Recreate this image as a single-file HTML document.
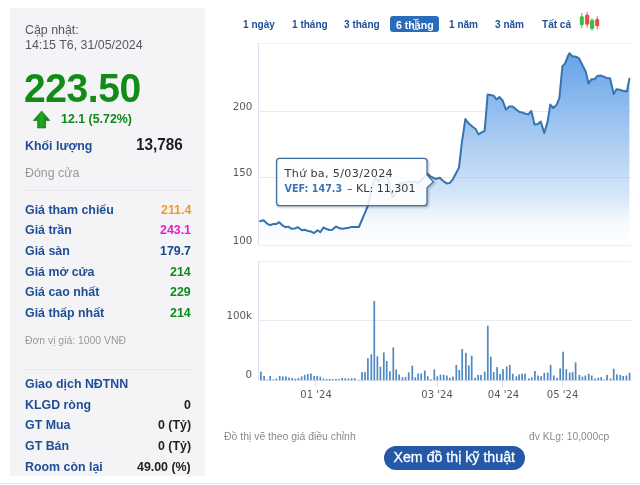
<!DOCTYPE html>
<html lang="vi">
<head>
<meta charset="utf-8">
<title>VEF</title>
<style>
html,body{margin:0;padding:0;background:#fff;}
body{width:640px;height:485px;position:relative;overflow:hidden;font-family:"Liberation Sans",Arial,sans-serif;}
.abs{position:absolute;white-space:nowrap;line-height:1;will-change:transform;}
#panel{position:absolute;left:10px;top:8px;width:195.4px;height:468px;background:#f5f4f7;}
#panel2{position:absolute;left:10px;top:8px;width:190px;height:468px;background:#f4f4f7;}
.g{color:#55585d;font-size:12.4px;}
.lbl{color:#1f4e96;font-weight:bold;font-size:12.4px;left:25px;}
.val{font-weight:bold;font-size:12.4px;right:449px;text-align:right;}
.hr{position:absolute;left:24px;width:170px;height:1px;background:#ebebef;}
.tab{color:#1f4e96;font-weight:bold;font-size:10.05px;top:19.6px;}
.ax{font-family:"DejaVu Sans","Liberation Sans",sans-serif;font-size:10.5px;color:#555;}
</style>
</head>
<body>
<div id="panel"></div><div id="panel2"></div>

<div class="abs g" style="left:25px;top:24.2px;">Cập nhật:</div>
<div class="abs g" style="left:25px;top:38.7px;">14:15 T6, 31/05/2024</div>
<div class="abs" id="big" style="left:24px;top:68.5px;font-size:39px;font-weight:bold;color:#118c16;letter-spacing:-0.4px;transform:scaleY(1.045);transform-origin:0 33.5px;">223.50</div>
<svg class="abs" style="left:32px;top:110px;" width="20" height="19" viewBox="0 0 20 19"><defs><linearGradient id="arg" x1="0" y1="0" x2="1" y2="0"><stop offset="0" stop-color="#0f7a14"/><stop offset="0.5" stop-color="#22a822"/><stop offset="1" stop-color="#0c6a12"/></linearGradient></defs><path d="M9.6 0.9 L17.9 10.6 L13.6 10.6 L13.6 18 L5.6 18 L5.6 10.6 L1.3 10.6 Z" fill="url(#arg)" stroke="#0b6a11" stroke-width="0.6" stroke-linejoin="round"/></svg>
<div class="abs" style="left:61px;top:113px;font-size:12.4px;font-weight:bold;color:#0e8a1b;">12.1 (5.72%)</div>
<div class="abs lbl" style="top:139.5px;">Khối lượng</div>
<div class="abs" style="left:136px;top:136.8px;font-size:15.3px;font-weight:bold;color:#1a1d24;transform:scaleY(1.08);transform-origin:0 13px;">13,786</div>
<div class="abs" style="left:25px;top:166.6px;font-size:12.4px;color:#999;">Đóng cửa</div>
<div class="hr" style="top:190px;"></div>

<div class="abs lbl" style="top:203.5px;">Giá tham chiếu</div><div class="abs val" style="top:203.5px;color:#f29a1f;">211.4</div>
<div class="abs lbl" style="top:224.2px;">Giá trần</div><div class="abs val" style="top:224.2px;color:#e31fd0;">243.1</div>
<div class="abs lbl" style="top:244.9px;">Giá sàn</div><div class="abs val" style="top:244.9px;color:#1b4788;">179.7</div>
<div class="abs lbl" style="top:265.5px;">Giá mở cửa</div><div class="abs val" style="top:265.5px;color:#0e8a1b;">214</div>
<div class="abs lbl" style="top:286.2px;">Giá cao nhất</div><div class="abs val" style="top:286.2px;color:#0e8a1b;">229</div>
<div class="abs lbl" style="top:307.0px;">Giá thấp nhất</div><div class="abs val" style="top:307.0px;color:#0e8a1b;">214</div>
<div class="abs" style="left:25px;top:335.7px;font-size:10.4px;color:#999;">Đơn vị giá: 1000 VNĐ</div>
<div class="hr" style="top:369px;"></div>
<div class="abs lbl" style="top:377.7px;">Giao dịch NĐTNN</div>
<div class="abs lbl" style="top:398.5px;">KLGD ròng</div><div class="abs val" style="top:398.5px;color:#222;">0</div>
<div class="abs lbl" style="top:419.1px;">GT Mua</div><div class="abs val" style="top:419.1px;color:#222;">0 (Tỷ)</div>
<div class="abs lbl" style="top:439.8px;">GT Bán</div><div class="abs val" style="top:439.8px;color:#222;">0 (Tỷ)</div>
<div class="abs lbl" style="top:460.5px;">Room còn lại</div><div class="abs val" style="top:460.5px;color:#222;">49.00 (%)</div>
<div style="position:absolute;left:0;top:483px;width:640px;height:1px;background:#ececf0;"></div>

<!-- tabs -->
<div class="abs tab" style="left:242.5px;">1 ngày</div>
<div class="abs tab" style="left:291.5px;">1 tháng</div>
<div class="abs tab" style="left:344px;">3 tháng</div>
<div class="abs" style="left:390px;top:16.3px;width:49.2px;height:15.9px;border-radius:3px;background:#2a6cbc;"></div>
<div class="abs tab" style="left:396px;color:#fff;font-size:10.6px;top:19.6px;">6 tháng</div>
<svg class="abs" style="left:411px;top:18px;" width="10" height="13" viewBox="0 0 10 13"><path d="M2.6 1.2 Q4.3 1.2 4.9 2.2 Q5.5 1.2 7.2 1.2 M4.9 2.2 V10.8 M2.6 11.8 Q4.3 11.8 4.9 10.8 Q5.5 11.8 7.2 11.8" fill="none" stroke="#2a4a78" stroke-width="2.2" stroke-opacity="0.55" stroke-linecap="round"/><path d="M2.6 1.2 Q4.3 1.2 4.9 2.2 Q5.5 1.2 7.2 1.2 M4.9 2.2 V10.8 M2.6 11.8 Q4.3 11.8 4.9 10.8 Q5.5 11.8 7.2 11.8" fill="none" stroke="#ffffff" stroke-width="1" stroke-linecap="round"/></svg>
<div class="abs tab" style="left:449.4px;">1 năm</div>
<div class="abs tab" style="left:495px;">3 năm</div>
<div class="abs tab" style="left:542px;">Tất cả</div>
<svg class="abs" style="left:576px;top:8px;" width="28" height="26" viewBox="576 8 28 26">
<g stroke-linecap="round">
<line x1="581.8" y1="13.3" x2="581.8" y2="28" stroke="#3aa648" stroke-width="0.9"/>
<rect x="579.8" y="15.9" width="4" height="9.4" rx="1.6" fill="#3fba4d"/>
<line x1="587.1" y1="12.4" x2="587.1" y2="27.1" stroke="#d9483f" stroke-width="0.9"/>
<rect x="585.1" y="14.5" width="4.1" height="10.3" rx="1.6" fill="#ea4b40"/>
<line x1="592" y1="18.5" x2="592" y2="30.4" stroke="#3aa648" stroke-width="0.9"/>
<rect x="589.9" y="19.7" width="4.3" height="9.3" rx="1.6" fill="#3fba4d"/>
<line x1="597.2" y1="16.6" x2="597.2" y2="28.9" stroke="#d9483f" stroke-width="0.9"/>
<rect x="595.2" y="18.8" width="4" height="7.5" rx="1.6" fill="#ea4b40"/>
</g></svg>

<svg class="abs" style="left:0;top:0;" width="640" height="485" viewBox="0 0 640 485" id="chart">
<defs>
<linearGradient id="ag" gradientUnits="userSpaceOnUse" x1="0" y1="42.5" x2="0" y2="245.3">
<stop offset="0" stop-color="#5e9ee7"/><stop offset="0.74" stop-color="#d3e4f8"/><stop offset="0.88" stop-color="#f5f8fd"/><stop offset="1" stop-color="#ffffff"/>
</linearGradient>
</defs>
<!-- CHART-BEGIN -->
<g shape-rendering="crispEdges">
<rect x="258.5" y="42.5" width="372.5" height="1" fill="#eeeef4"/>
<rect x="258.5" y="110.9" width="372.5" height="1" fill="#e8e9f1"/>
<rect x="258.5" y="176.9" width="372.5" height="1" fill="#e8e9f1"/>
<rect x="258.5" y="244.8" width="372.5" height="1" fill="#eaebf2"/>
<rect x="258.0" y="42.5" width="1" height="202.8" fill="#dfe1f0"/>
<rect x="258.5" y="261.3" width="372.5" height="1" fill="#eeeef4"/>
<rect x="258.5" y="320.2" width="372.5" height="1" fill="#e8e9f1"/>
<rect x="258.5" y="379.8" width="372.5" height="1" fill="#e6e8f1"/>
<rect x="258.0" y="261.3" width="1" height="119.0" fill="#dfe1f0"/>
<rect x="315.4" y="380.3" width="1" height="7" fill="#dfe1f0"/>
<rect x="436.5" y="380.3" width="1" height="7" fill="#dfe1f0"/>
<rect x="502.3" y="380.3" width="1" height="7" fill="#dfe1f0"/>
<rect x="561.5" y="380.3" width="1" height="7" fill="#dfe1f0"/>
</g>
<path d="M260.2 221.2 L263.6 220.3 L266.7 223.3 L269.8 225.2 L273.0 224.1 L276.1 224.1 L279.2 222.2 L282.3 225.3 L285.5 227.2 L288.1 226.6 L291.7 228.8 L294.8 228.4 L298.0 227.2 L301.9 230.3 L304.7 229.7 L308.1 231.1 L311.2 231.6 L314.1 233.1 L317.5 230.3 L320.3 232.3 L323.4 227.5 L326.1 228.8 L329.2 230.0 L332.3 229.8 L335.9 226.4 L339.4 228.3 L342.5 228.8 L345.6 228.3 L348.8 227.8 L351.9 226.9 L355.0 226.9 L358.9 227.0 L361.9 220.0 L364.5 213.9 L368.0 205.5 L370.6 193.8 L373.3 182.4 L375.5 178.0 L378.5 182.0 L381.5 177.0 L384.7 176.3 L387.5 177.5 L389.9 186.8 L392.5 197.5 L396.0 192.0 L399.2 184.0 L402.3 182.5 L405.5 183.5 L408.6 181.0 L411.7 182.5 L414.8 181.5 L418.0 183.0 L421.1 180.0 L424.2 177.0 L427.2 173.6 L430.9 176.6 L435.9 179.0 L439.8 177.7 L443.2 181.0 L446.6 183.4 L449.6 183.1 L452.6 179.7 L455.5 174.2 L459.0 167.6 L461.9 142.2 L465.4 119.0 L468.8 123.6 L472.6 126.7 L475.6 129.0 L478.5 134.4 L481.7 132.4 L484.6 130.8 L486.2 112.7 L487.6 94.5 L490.7 95.0 L493.7 95.7 L496.4 99.5 L499.4 97.0 L502.4 100.2 L506.0 109.6 L509.2 106.5 L512.2 106.4 L515.6 108.9 L519.4 112.0 L522.7 112.6 L525.4 113.7 L528.3 114.4 L531.3 111.0 L534.5 124.4 L537.9 123.9 L540.8 121.6 L544.2 133.0 L547.6 121.6 L550.3 104.6 L553.3 108.0 L556.7 104.6 L559.4 97.8 L562.4 66.1 L565.1 63.4 L568.0 55.9 L569.4 53.3 L572.3 56.2 L576.3 56.8 L579.0 58.3 L582.2 64.6 L585.7 71.5 L588.5 83.4 L591.6 79.2 L594.6 79.2 L597.3 75.9 L600.3 75.5 L603.8 76.6 L606.6 78.0 L610.1 78.3 L613.7 94.1 L616.5 89.2 L619.5 89.8 L622.8 90.7 L626.9 91.5 L629.4 78.8 L629.4 245.3 L260.2 245.3 Z" fill="url(#ag)"/>
<clipPath id="acl"><path d="M260.2 221.2 L263.6 220.3 L266.7 223.3 L269.8 225.2 L273.0 224.1 L276.1 224.1 L279.2 222.2 L282.3 225.3 L285.5 227.2 L288.1 226.6 L291.7 228.8 L294.8 228.4 L298.0 227.2 L301.9 230.3 L304.7 229.7 L308.1 231.1 L311.2 231.6 L314.1 233.1 L317.5 230.3 L320.3 232.3 L323.4 227.5 L326.1 228.8 L329.2 230.0 L332.3 229.8 L335.9 226.4 L339.4 228.3 L342.5 228.8 L345.6 228.3 L348.8 227.8 L351.9 226.9 L355.0 226.9 L358.9 227.0 L361.9 220.0 L364.5 213.9 L368.0 205.5 L370.6 193.8 L373.3 182.4 L375.5 178.0 L378.5 182.0 L381.5 177.0 L384.7 176.3 L387.5 177.5 L389.9 186.8 L392.5 197.5 L396.0 192.0 L399.2 184.0 L402.3 182.5 L405.5 183.5 L408.6 181.0 L411.7 182.5 L414.8 181.5 L418.0 183.0 L421.1 180.0 L424.2 177.0 L427.2 173.6 L430.9 176.6 L435.9 179.0 L439.8 177.7 L443.2 181.0 L446.6 183.4 L449.6 183.1 L452.6 179.7 L455.5 174.2 L459.0 167.6 L461.9 142.2 L465.4 119.0 L468.8 123.6 L472.6 126.7 L475.6 129.0 L478.5 134.4 L481.7 132.4 L484.6 130.8 L486.2 112.7 L487.6 94.5 L490.7 95.0 L493.7 95.7 L496.4 99.5 L499.4 97.0 L502.4 100.2 L506.0 109.6 L509.2 106.5 L512.2 106.4 L515.6 108.9 L519.4 112.0 L522.7 112.6 L525.4 113.7 L528.3 114.4 L531.3 111.0 L534.5 124.4 L537.9 123.9 L540.8 121.6 L544.2 133.0 L547.6 121.6 L550.3 104.6 L553.3 108.0 L556.7 104.6 L559.4 97.8 L562.4 66.1 L565.1 63.4 L568.0 55.9 L569.4 53.3 L572.3 56.2 L576.3 56.8 L579.0 58.3 L582.2 64.6 L585.7 71.5 L588.5 83.4 L591.6 79.2 L594.6 79.2 L597.3 75.9 L600.3 75.5 L603.8 76.6 L606.6 78.0 L610.1 78.3 L613.7 94.1 L616.5 89.2 L619.5 89.8 L622.8 90.7 L626.9 91.5 L629.4 78.8 L629.4 245.3 L260.2 245.3 Z"/></clipPath>
<g clip-path="url(#acl)" shape-rendering="crispEdges"><rect x="258.5" y="110.9" width="372.5" height="1" fill="#9aa0c0" fill-opacity="0.07"/><rect x="258.5" y="176.9" width="372.5" height="1" fill="#9aa0c0" fill-opacity="0.2"/></g>
<path d="M260.2 221.2 L263.6 220.3 L266.7 223.3 L269.8 225.2 L273.0 224.1 L276.1 224.1 L279.2 222.2 L282.3 225.3 L285.5 227.2 L288.1 226.6 L291.7 228.8 L294.8 228.4 L298.0 227.2 L301.9 230.3 L304.7 229.7 L308.1 231.1 L311.2 231.6 L314.1 233.1 L317.5 230.3 L320.3 232.3 L323.4 227.5 L326.1 228.8 L329.2 230.0 L332.3 229.8 L335.9 226.4 L339.4 228.3 L342.5 228.8 L345.6 228.3 L348.8 227.8 L351.9 226.9 L355.0 226.9 L358.9 227.0 L361.9 220.0 L364.5 213.9 L368.0 205.5 L370.6 193.8 L373.3 182.4 L375.5 178.0 L378.5 182.0 L381.5 177.0 L384.7 176.3 L387.5 177.5 L389.9 186.8 L392.5 197.5 L396.0 192.0 L399.2 184.0 L402.3 182.5 L405.5 183.5 L408.6 181.0 L411.7 182.5 L414.8 181.5 L418.0 183.0 L421.1 180.0 L424.2 177.0 L427.2 173.6 L430.9 176.6 L435.9 179.0 L439.8 177.7 L443.2 181.0 L446.6 183.4 L449.6 183.1 L452.6 179.7 L455.5 174.2 L459.0 167.6 L461.9 142.2 L465.4 119.0 L468.8 123.6 L472.6 126.7 L475.6 129.0 L478.5 134.4 L481.7 132.4 L484.6 130.8 L486.2 112.7 L487.6 94.5 L490.7 95.0 L493.7 95.7 L496.4 99.5 L499.4 97.0 L502.4 100.2 L506.0 109.6 L509.2 106.5 L512.2 106.4 L515.6 108.9 L519.4 112.0 L522.7 112.6 L525.4 113.7 L528.3 114.4 L531.3 111.0 L534.5 124.4 L537.9 123.9 L540.8 121.6 L544.2 133.0 L547.6 121.6 L550.3 104.6 L553.3 108.0 L556.7 104.6 L559.4 97.8 L562.4 66.1 L565.1 63.4 L568.0 55.9 L569.4 53.3 L572.3 56.2 L576.3 56.8 L579.0 58.3 L582.2 64.6 L585.7 71.5 L588.5 83.4 L591.6 79.2 L594.6 79.2 L597.3 75.9 L600.3 75.5 L603.8 76.6 L606.6 78.0 L610.1 78.3 L613.7 94.1 L616.5 89.2 L619.5 89.8 L622.8 90.7 L626.9 91.5 L629.4 78.8" fill="none" stroke="#3573b1" stroke-width="2" stroke-linejoin="round" stroke-linecap="round"/>
<g fill="#4f88c2">
<rect x="260.05" y="371.7" width="1.7" height="8.6"/>
<rect x="263.25" y="375.9" width="1.7" height="4.4"/>
<rect x="266.35" y="379.7" width="1.7" height="0.6"/>
<rect x="269.35" y="375.9" width="1.7" height="4.4"/>
<rect x="272.45" y="379.5" width="1.7" height="0.8"/>
<rect x="275.45" y="378.6" width="1.7" height="1.7"/>
<rect x="278.85" y="375.9" width="1.7" height="4.4"/>
<rect x="281.95" y="376.4" width="1.7" height="3.9"/>
<rect x="285.05" y="376.4" width="1.7" height="3.9"/>
<rect x="288.15" y="377.5" width="1.7" height="2.8"/>
<rect x="291.35" y="378.0" width="1.7" height="2.3"/>
<rect x="294.45" y="378.8" width="1.7" height="1.5"/>
<rect x="297.55" y="378.0" width="1.7" height="2.3"/>
<rect x="300.75" y="376.4" width="1.7" height="3.9"/>
<rect x="303.85" y="374.8" width="1.7" height="5.5"/>
<rect x="306.95" y="373.9" width="1.7" height="6.4"/>
<rect x="310.05" y="373.6" width="1.7" height="6.7"/>
<rect x="313.25" y="375.9" width="1.7" height="4.4"/>
<rect x="316.35" y="375.9" width="1.7" height="4.4"/>
<rect x="319.45" y="376.7" width="1.7" height="3.6"/>
<rect x="322.55" y="378.6" width="1.7" height="1.7"/>
<rect x="325.75" y="379.1" width="1.7" height="1.2"/>
<rect x="328.85" y="378.8" width="1.7" height="1.5"/>
<rect x="331.95" y="379.1" width="1.7" height="1.2"/>
<rect x="335.05" y="378.8" width="1.7" height="1.5"/>
<rect x="338.15" y="379.1" width="1.7" height="1.2"/>
<rect x="341.35" y="378.0" width="1.7" height="2.3"/>
<rect x="344.45" y="378.3" width="1.7" height="2.0"/>
<rect x="347.55" y="378.6" width="1.7" height="1.7"/>
<rect x="350.75" y="378.3" width="1.7" height="2.0"/>
<rect x="353.85" y="378.3" width="1.7" height="2.0"/>
<rect x="357.75" y="379.7" width="1.7" height="0.6"/>
<rect x="361.15" y="372.1" width="1.7" height="8.2"/>
<rect x="364.15" y="372.1" width="1.7" height="8.2"/>
<rect x="367.05" y="358.1" width="1.7" height="22.2"/>
<rect x="370.45" y="354.3" width="1.7" height="26.0"/>
<rect x="373.45" y="300.9" width="1.7" height="79.4"/>
<rect x="376.55" y="356.3" width="1.7" height="24.0"/>
<rect x="379.55" y="366.7" width="1.7" height="13.6"/>
<rect x="382.95" y="352.4" width="1.7" height="27.9"/>
<rect x="385.85" y="361.0" width="1.7" height="19.3"/>
<rect x="389.05" y="371.3" width="1.7" height="9.0"/>
<rect x="392.45" y="347.4" width="1.7" height="32.9"/>
<rect x="395.35" y="369.4" width="1.7" height="10.9"/>
<rect x="398.35" y="374.4" width="1.7" height="5.9"/>
<rect x="401.55" y="377.3" width="1.7" height="3.0"/>
<rect x="404.65" y="376.9" width="1.7" height="3.4"/>
<rect x="407.85" y="372.3" width="1.7" height="8.0"/>
<rect x="411.45" y="365.6" width="1.7" height="14.7"/>
<rect x="414.45" y="377.3" width="1.7" height="3.0"/>
<rect x="417.35" y="373.5" width="1.7" height="6.8"/>
<rect x="420.35" y="373.5" width="1.7" height="6.8"/>
<rect x="423.95" y="370.5" width="1.7" height="9.8"/>
<rect x="426.95" y="376.3" width="1.7" height="4.0"/>
<rect x="430.05" y="379.3" width="1.7" height="1.0"/>
<rect x="433.45" y="369.4" width="1.7" height="10.9"/>
<rect x="436.45" y="376.3" width="1.7" height="4.0"/>
<rect x="439.65" y="374.7" width="1.7" height="5.6"/>
<rect x="442.85" y="374.7" width="1.7" height="5.6"/>
<rect x="445.95" y="375.5" width="1.7" height="4.8"/>
<rect x="448.95" y="377.8" width="1.7" height="2.5"/>
<rect x="452.05" y="376.7" width="1.7" height="3.6"/>
<rect x="455.45" y="364.9" width="1.7" height="15.4"/>
<rect x="458.45" y="369.9" width="1.7" height="10.4"/>
<rect x="461.35" y="349.0" width="1.7" height="31.3"/>
<rect x="465.05" y="352.9" width="1.7" height="27.4"/>
<rect x="467.95" y="365.3" width="1.7" height="15.0"/>
<rect x="470.85" y="355.8" width="1.7" height="24.5"/>
<rect x="474.25" y="377.8" width="1.7" height="2.5"/>
<rect x="477.25" y="374.9" width="1.7" height="5.4"/>
<rect x="480.15" y="374.9" width="1.7" height="5.4"/>
<rect x="483.85" y="371.7" width="1.7" height="8.6"/>
<rect x="486.95" y="325.7" width="1.7" height="54.6"/>
<rect x="489.95" y="356.7" width="1.7" height="23.6"/>
<rect x="492.85" y="372.1" width="1.7" height="8.2"/>
<rect x="496.25" y="367.1" width="1.7" height="13.2"/>
<rect x="499.25" y="374.0" width="1.7" height="6.3"/>
<rect x="502.15" y="369.2" width="1.7" height="11.1"/>
<rect x="505.85" y="366.5" width="1.7" height="13.8"/>
<rect x="508.95" y="364.9" width="1.7" height="15.4"/>
<rect x="511.95" y="373.7" width="1.7" height="6.6"/>
<rect x="515.55" y="376.3" width="1.7" height="4.0"/>
<rect x="518.25" y="374.4" width="1.7" height="5.9"/>
<rect x="521.25" y="373.7" width="1.7" height="6.6"/>
<rect x="524.15" y="373.7" width="1.7" height="6.6"/>
<rect x="528.05" y="378.5" width="1.7" height="1.8"/>
<rect x="530.95" y="377.4" width="1.7" height="2.9"/>
<rect x="534.05" y="371.0" width="1.7" height="9.3"/>
<rect x="537.25" y="375.5" width="1.7" height="4.8"/>
<rect x="540.25" y="376.2" width="1.7" height="4.1"/>
<rect x="543.45" y="372.8" width="1.7" height="7.5"/>
<rect x="546.85" y="372.6" width="1.7" height="7.7"/>
<rect x="549.75" y="364.9" width="1.7" height="15.4"/>
<rect x="552.95" y="375.5" width="1.7" height="4.8"/>
<rect x="556.35" y="377.8" width="1.7" height="2.5"/>
<rect x="559.35" y="368.3" width="1.7" height="12.0"/>
<rect x="562.25" y="351.7" width="1.7" height="28.6"/>
<rect x="565.45" y="369.2" width="1.7" height="11.1"/>
<rect x="568.85" y="372.6" width="1.7" height="7.7"/>
<rect x="571.75" y="372.1" width="1.7" height="8.2"/>
<rect x="574.75" y="362.4" width="1.7" height="17.9"/>
<rect x="578.55" y="374.9" width="1.7" height="5.4"/>
<rect x="581.55" y="376.7" width="1.7" height="3.6"/>
<rect x="584.45" y="375.5" width="1.7" height="4.8"/>
<rect x="587.85" y="373.7" width="1.7" height="6.6"/>
<rect x="590.85" y="375.5" width="1.7" height="4.8"/>
<rect x="594.05" y="378.5" width="1.7" height="1.8"/>
<rect x="597.45" y="377.8" width="1.7" height="2.5"/>
<rect x="600.35" y="377.1" width="1.7" height="3.2"/>
<rect x="603.35" y="379.6" width="1.7" height="0.7"/>
<rect x="606.25" y="374.9" width="1.7" height="5.4"/>
<rect x="609.85" y="378.5" width="1.7" height="1.8"/>
<rect x="612.85" y="368.7" width="1.7" height="11.6"/>
<rect x="616.05" y="374.4" width="1.7" height="5.9"/>
<rect x="619.45" y="374.9" width="1.7" height="5.4"/>
<rect x="622.35" y="376.0" width="1.7" height="4.3"/>
<rect x="625.55" y="375.5" width="1.7" height="4.8"/>
<rect x="628.75" y="372.8" width="1.7" height="7.5"/>
</g>
<g class="axl" font-family="DejaVu Sans, Liberation Sans, sans-serif" font-size="10.3" fill="#555a60">
<text x="252.4" y="109.7" text-anchor="end">200</text>
<text x="252.4" y="175.8" text-anchor="end">150</text>
<text x="252.4" y="243.6" text-anchor="end">100</text>
<text x="252.0" y="319.1" text-anchor="end">100k</text>
<text x="252.0" y="377.9" text-anchor="end">0</text>
<text x="316.1" y="397.9" text-anchor="middle" font-size="10.05">01 '24</text>
<text x="437.1" y="397.9" text-anchor="middle" font-size="10.05">03 '24</text>
<text x="503.5" y="397.9" text-anchor="middle" font-size="10.05">04 '24</text>
<text x="562.6" y="397.9" text-anchor="middle" font-size="10.05">05 '24</text>
</g>
<path d="M279.6 158.4 H424 Q427 158.4 427 161.4 V174.8 L433.2 181.9 L427 187.7 V202.7 Q427 205.7 424 205.7 H279.6 Q276.6 205.7 276.6 202.7 V161.4 Q276.6 158.4 279.6 158.4 Z" fill="none" stroke="#000" stroke-opacity="0.04" stroke-width="5" transform="translate(1,1)"/>
<path d="M279.6 158.4 H424 Q427 158.4 427 161.4 V174.8 L433.2 181.9 L427 187.7 V202.7 Q427 205.7 424 205.7 H279.6 Q276.6 205.7 276.6 202.7 V161.4 Q276.6 158.4 279.6 158.4 Z" fill="none" stroke="#000" stroke-opacity="0.07" stroke-width="3" transform="translate(1,1)"/>
<path d="M279.6 158.4 H424 Q427 158.4 427 161.4 V174.8 L433.2 181.9 L427 187.7 V202.7 Q427 205.7 424 205.7 H279.6 Q276.6 205.7 276.6 202.7 V161.4 Q276.6 158.4 279.6 158.4 Z" fill="none" stroke="#000" stroke-opacity="0.11" stroke-width="1" transform="translate(1,1)"/>
<path d="M279.6 158.4 H424 Q427 158.4 427 161.4 V174.8 L433.2 181.9 L427 187.7 V202.7 Q427 205.7 424 205.7 H279.6 Q276.6 205.7 276.6 202.7 V161.4 Q276.6 158.4 279.6 158.4 Z" fill="#ffffff" fill-opacity="0.86" stroke="#40709c" stroke-width="1.3"/>
<g font-family="DejaVu Sans, Liberation Sans, sans-serif" font-size="11.2" fill="#3a3a3a">
<text x="284.6" y="176.5" textLength="108.1" lengthAdjust="spacing">Thứ ba, 5/03/2024</text>
<text x="284.6" y="191.8" fill="#3a76b4" font-weight="bold" font-family="DejaVu Sans Condensed, DejaVu Sans, sans-serif" textLength="57.6" lengthAdjust="spacingAndGlyphs">VEF: 147.3</text>
<text x="347.0" y="191.8" textLength="68.5" lengthAdjust="spacing">– KL: 11,301</text>
</g>
<!-- CHART-END -->
</svg>

<div class="abs" style="left:223.5px;top:431.5px;font-size:10.45px;color:#8a8a8a;">Đồ thị vẽ theo giá điều chỉnh</div>
<div class="abs" style="left:528.6px;top:431.5px;font-size:10.3px;color:#8a8a8a;">đv KLg: 10,000cp</div>
<div class="abs" style="left:383.7px;top:445.5px;width:140.5px;height:24px;border-radius:12px;background:#2558a8;"></div>
<div class="abs" style="left:383.7px;top:450px;width:140.5px;text-align:center;font-size:14.2px;color:#fff;-webkit-text-stroke:0.3px #fff;">Xem đồ thị kỹ thuật</div>
</body>
</html>
